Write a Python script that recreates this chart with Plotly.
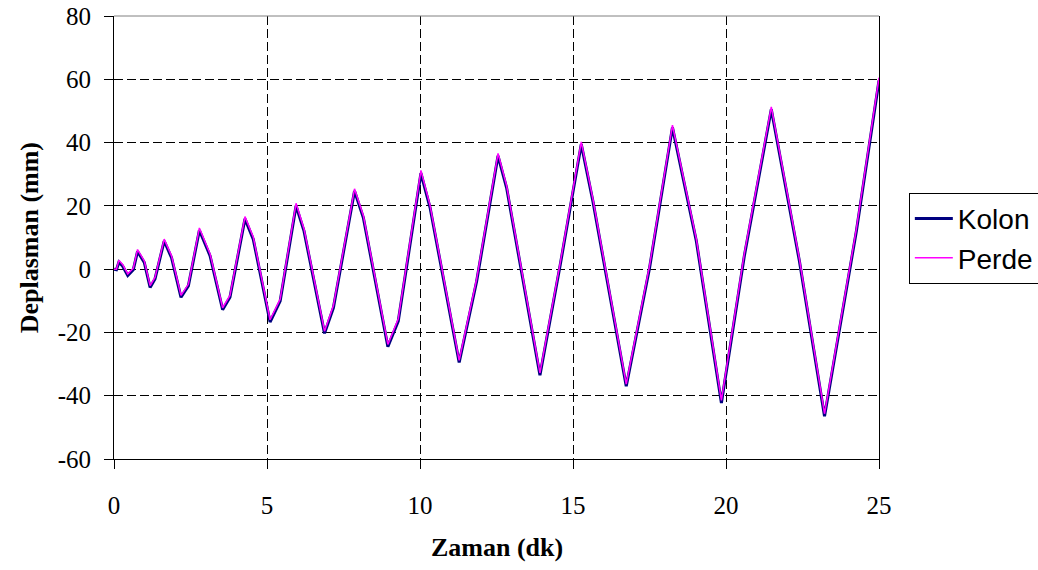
import plotly.graph_objects as go

# Time (minutes) and displacement (mm) for the two recorded elements
zaman = [0.00, 0.08, 0.16, 0.28, 0.45, 0.63, 0.77, 0.99, 1.18, 1.34,
         1.64, 1.88, 2.19, 2.43, 2.79, 3.14, 3.55, 3.79, 4.28, 4.55,
         5.10, 5.43, 5.95, 6.21, 6.88, 7.17, 7.86, 8.15, 8.95, 9.29,
         10.03, 10.33, 11.28, 11.85, 12.55, 12.83, 13.92, 14.58, 15.27, 15.65,
         16.74, 17.50, 18.25, 19.03, 19.85, 20.60, 21.48, 22.40, 23.22, 24.26,
         25.00]

kolon = [0.0, -0.2, 2.2, 1.0, -2.0, -0.2, 5.6, 2.1, -5.8, -3.1,
         8.9, 3.6, -8.9, -5.3, 12.3, 4.2, -12.8, -8.9, 15.9, 9.5,
         -16.7, -10.1, 20.0, 12.0, -20.3, -12.2, 24.7, 16.2, -24.5, -16.4,
         30.3, 19.4, -29.5, -3.9, 35.8, 25.7, -33.5, 1.2, 39.5, 21.5,
         -37.0, 0.3, 44.8, 8.9, -42.3, 4.2, 50.5, 2.5, -46.5, 12.0,
         59.6]

perde = [0.0, 0.0, 2.8, 1.5, -1.5, 0.3, 6.2, 2.6, -5.2, -2.6,
         9.5, 4.2, -8.3, -4.8, 13.0, 4.8, -12.2, -8.3, 16.6, 10.2,
         -16.0, -9.5, 20.8, 12.7, -19.6, -11.5, 25.4, 16.9, -23.8, -15.7,
         31.2, 20.1, -28.8, -3.2, 36.6, 26.4, -32.8, 1.9, 40.2, 22.2,
         -36.3, 1.0, 45.5, 9.6, -41.5, 5.0, 51.3, 3.2, -45.7, 12.7,
         60.5]

x_ticks = [0, 5, 10, 15, 20, 25]
x_labels = ["0", "5", "10", "15", "20", "25"]
y_ticks = [-60, -40, -20, 0, 20, 40, 60, 80]
y_labels = ["-60", "-40", "-20", "0", "20", "40", "60", "80"]

fig = go.Figure()
fig.add_trace(go.Scatter(x=zaman, y=kolon, name="Kolon", mode="lines",
                         line=dict(color="#000080", width=3)))
fig.add_trace(go.Scatter(x=zaman, y=perde, name="Perde", mode="lines",
                         line=dict(color="#FF00FF", width=1.5)))

grid = dict(showgrid=True, gridcolor="#000000", gridwidth=1, griddash="9px,4px")

fig.update_xaxes(range=[0, 25], tickvals=x_ticks, ticktext=x_labels,
                 ticks="outside", ticklen=9,
                 tickcolor="black", showline=True, linecolor="black", linewidth=1,
                 zeroline=False, ticklabelstandoff=15,
                 tickfont=dict(family="Liberation Serif", size=25, color="black"),
                 **grid)
fig.update_yaxes(range=[-60, 80], tickvals=y_ticks, ticktext=y_labels,
                 ticks="outside", ticklen=9,
                 tickcolor="black", showline=True, linecolor="black", linewidth=1,
                 mirror=True, zeroline=False, ticklabelstandoff=8,
                 tickfont=dict(family="Liberation Serif", size=25, color="black"),
                 **grid)

# Top edge of the plot area
fig.add_shape(type="line", xref="paper", yref="paper", x0=0, x1=1, y0=1, y1=1,
              line=dict(color="#808080", width=1))

fig.add_annotation(text="<b>Zaman (dk)</b>", xref="paper", yref="paper",
                   x=0.5, y=-0.2, xanchor="center", yanchor="middle",
                   showarrow=False,
                   font=dict(family="Liberation Serif", size=26, color="black"))
fig.add_annotation(text="<b>Deplasman (mm)</b>", xref="paper", yref="paper",
                   x=-0.110, y=0.5, xanchor="center", yanchor="middle",
                   textangle=-90, showarrow=False,
                   font=dict(family="Liberation Serif", size=26, color="black"))

fig.update_layout(
    width=1038, height=570,
    margin=dict(l=114, r=159, t=16, b=111, autoexpand=False),
    paper_bgcolor="white", plot_bgcolor="white",
    showlegend=True,
    legend=dict(x=1.039, y=0.601, xanchor="left", yanchor="top",
                bordercolor="black", borderwidth=1, bgcolor="white",
                font=dict(family="Liberation Sans", size=28, color="black"),
                tracegroupgap=0, itemwidth=38),
)

fig.write_html("out.html")
